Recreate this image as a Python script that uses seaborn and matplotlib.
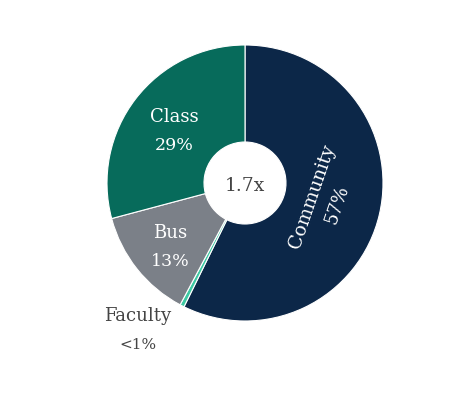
import matplotlib
matplotlib.use("Agg")
import matplotlib.pyplot as plt
import seaborn as sns

# slice data, clockwise from 12 o'clock
segments = ['Community', 'Faculty', 'Bus', 'Class']
shares = [57, 0.5, 13, 29]
share_labels = ['57%', '<1%', '13%', '29%']
colors = ['#0c2748', '#3dc9a3', '#7b8088', '#076b5b']
center_label = '1.7x'

sns.set_theme(style='white')
plt.rcParams['font.family'] = ['DejaVu Serif']

W, H = 476, 398
fig = plt.figure(figsize=(W / 100, H / 100), dpi=100)
ax = fig.add_axes([0, 0, 1, 1])

# pixel coords -> axes data (y flipped)
def py(y):
    return H - y

cx, cy, r_out, r_in = 245, 183, 138, 41
ax.pie(shares, colors=colors, startangle=90, counterclock=False,
       center=(cx, py(cy)), radius=r_out, frame=True,
       wedgeprops=dict(width=r_out - r_in, edgecolor='white', linewidth=0.8))
ax.set_xlim(0, W)
ax.set_ylim(0, H)
ax.axis('off')

# label positions (pixels): x, y, rotation, size
name_pos = {'Community': (312, 197, 71, 13.5), 'Faculty': (138, 316, 0, 13),
            'Bus': (170, 233, 0, 13), 'Class': (174, 117, 0, 13)}
pct_pos = {'Community': (337, 205, 71, 13), 'Faculty': (138, 345, 0, 11),
           'Bus': (170, 261, 0, 12.5), 'Class': (174, 145, 0, 12.5)}

for seg, pct in zip(segments, share_labels):
    col = '#444444' if seg == 'Faculty' else 'white'
    x, y, rot, fs = name_pos[seg]
    ax.text(x, py(y), seg, ha='center', va='center', rotation=rot,
            color=col, fontsize=fs)
    x, y, rot, fs = pct_pos[seg]
    ax.text(x, py(y), pct, ha='center', va='center', rotation=rot,
            color=col, fontsize=fs)

ax.text(cx, py(186), center_label, ha='center', va='center',
        color='#444444', fontsize=13.5)

fig.savefig('out.png', dpi=100, facecolor='white')
